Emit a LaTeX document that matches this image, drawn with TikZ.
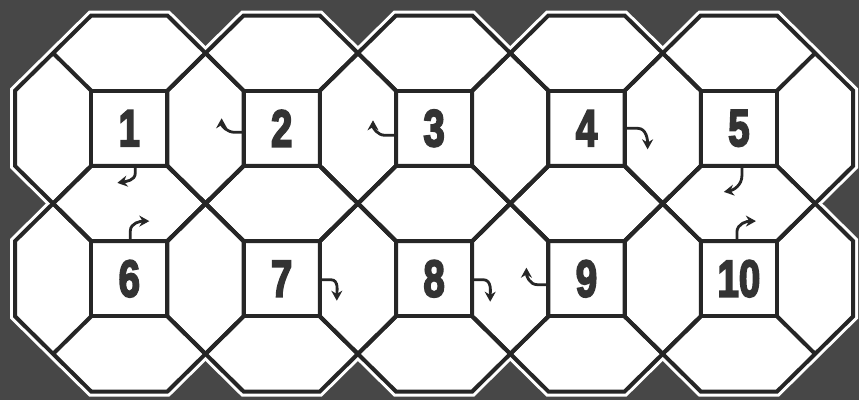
\documentclass[tikz,border=0pt]{standalone}
\usepackage{fontspec}
\usetikzlibrary{arrows.meta,calc}
\newfontfamily\numfont[BoldFeatures={FakeBold=4}]{Liberation Sans}
\definecolor{bg}{HTML}{474747}
\definecolor{ink}{HTML}{262626}
\definecolor{digit}{HTML}{333333}
\tikzset{
  halo/.style={draw=white, line width=10bp, line join=miter},
  octfill/.style={fill=white},
  octline/.style={draw=ink, line width=4bp, line join=miter},
  sqbox/.style={draw=ink, line width=4bp, minimum width=76.2bp, minimum height=75.2bp,
    inner sep=0pt, outer sep=0pt, text=digit},
  curlarrow/.style={draw=ink, line width=2.8bp, -{Stealth[length=10bp,width=11bp]}},
  octo/.pic={
    \path[pic actions] (-1.5,-0.5) -- (-0.5,-1.5) -- (0.5,-1.5) -- (1.5,-0.5) -- (1.5,0.5)
      -- (0.5,1.5) -- (-0.5,1.5) -- (-1.5,0.5) -- cycle;
  },
  spokes/.pic={
    \draw[octline] (-0.5,-0.5) -- (-1,-1) (0.5,-0.5) -- (1,-1)
      (0.5,0.5) -- (1,1) (-0.5,0.5) -- (-1,1);
  }
}
\newcommand\numtext[1]{\scalebox{0.74}[1]{\numfont\bfseries\fontsize{52bp}{52bp}\selectfont #1}}
\begin{document}
\begin{tikzpicture}[x=1bp,y=-1bp]
\fill[bg] (0,0) rectangle (859,400);
\begin{scope}[shift={(15bp,-15.5bp)}, x=76.2bp, y=-75.2bp]
  \foreach \i in {0,...,4} \foreach \j in {0,1}
    \pic[halo] at ({1.5+2*\i},{1.5+2*\j}) {octo};
  \foreach \i in {0,...,4} \foreach \j in {0,1}
    \pic[octfill] at ({1.5+2*\i},{1.5+2*\j}) {octo};
  \foreach \i in {0,...,4} \foreach \j in {0,1} {
    \pic[octline] at ({1.5+2*\i},{1.5+2*\j}) {octo};
    \pic at ({1.5+2*\i},{1.5+2*\j}) {spokes};
  }
  \node[sqbox] (sq1) at (1.5,1.5) {\numtext{1}};
  \node[sqbox] (sq2) at (3.5,1.5) {\numtext{2}};
  \node[sqbox] (sq3) at (5.5,1.5) {\numtext{3}};
  \node[sqbox] (sq4) at (7.5,1.5) {\numtext{4}};
  \node[sqbox] (sq5) at (9.5,1.5) {\numtext{5}};
  \node[sqbox] (sq6) at (1.5,3.5) {\numtext{6}};
  \node[sqbox] (sq7) at (3.5,3.5) {\numtext{7}};
  \node[sqbox] (sq8) at (5.5,3.5) {\numtext{8}};
  \node[sqbox] (sq9) at (7.5,3.5) {\numtext{9}};
  \node[sqbox] (sq10) at (9.5,3.5) {\numtext{10}};
  % turning arrows
  \draw[curlarrow] ($(sq1.south)+(6bp,0bp)$) -- ++(0bp,-7bp) to[out=-90,in=10] ++(-18bp,-10bp);
  \draw[curlarrow] ($(sq2.west)+(0bp,-4bp)$) -- ++(-9bp,0bp) to[out=180,in=-90] ++(-13bp,14bp);
  \draw[curlarrow] ($(sq3.west)+(0bp,-7bp)$) -- ++(-11bp,0bp) to[out=180,in=-90] ++(-12bp,15bp);
  \draw[curlarrow] ($(sq4.east)+(0bp,0bp)$) -- ++(13bp,0bp) to[out=0,in=90] ++(10bp,-21bp);
  \draw[curlarrow] ($(sq5.south)+(3bp,0bp)$) -- ++(0bp,-10bp) to[out=-90,in=10] ++(-18bp,-16bp);
  \draw[curlarrow] ($(sq6.north)+(1bp,0bp)$) -- ++(0bp,10bp) to[out=90,in=180] ++(19bp,10bp);
  \draw[curlarrow] ($(sq7.east)+(0bp,-1bp)$) -- ++(11bp,0bp) to[out=0,in=90] ++(6bp,-21bp);
  \draw[curlarrow] ($(sq8.east)+(0bp,-1bp)$) -- ++(11bp,0bp) to[out=0,in=90] ++(7bp,-22bp);
  \draw[curlarrow] ($(sq9.west)+(0bp,-6bp)$) -- ++(-11bp,0bp) to[out=180,in=-90] ++(-11bp,17bp);
  \draw[curlarrow] ($(sq10.north)+(-2bp,0bp)$) -- ++(0bp,9bp) to[out=90,in=180] ++(19bp,11bp);
\end{scope}
\end{tikzpicture}
\end{document}
